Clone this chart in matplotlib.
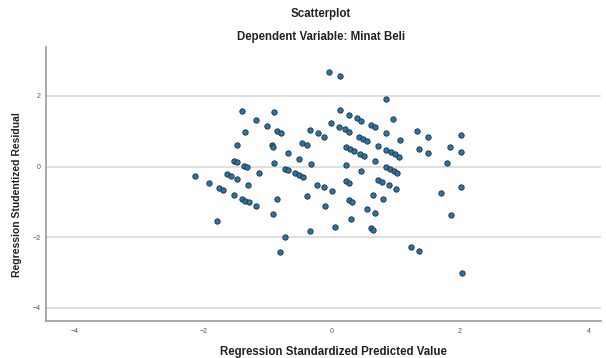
import matplotlib
matplotlib.use("Agg")
import matplotlib.pyplot as plt

# Regression standardized predicted value vs studentized residual
pred = [
    -0.04, 0.13, -1.40, -0.90, -1.18, -1.01, -1.35, -0.85, -0.79, -1.48,
    -0.93, -0.91, -0.68, -0.46, -0.38, -0.51, -0.34, -0.21, -0.12, -1.52,
    -1.48, -1.37, -1.32, -1.13, -0.90, -0.73, -0.68, -0.57, -0.51, -0.45,
    -0.32, -2.13, -1.63, -1.57, -1.48, -0.01, 0.85, 0.13, 0.27, 0.39,
    0.46, 0.11, 0.21, 0.27, 0.61, 0.67, 0.95, 0.85, 0.43, 0.49,
    0.55, 1.06, 1.33, 1.50, 2.01, 0.22, 0.29, 0.35, 0.44, 0.50,
    0.72, 0.85, 0.92, 0.99, 1.05, 0.67, 1.36, 1.50, 1.84, 2.01,
    1.80, 0.22, 0.85, 0.91, 0.97, 1.02, 0.46, 0.22, 0.72, 1.70,
    2.01, 1.86, -1.91, -1.76, -1.69, -1.30, -1.52, -1.40, -1.35, -1.29,
    -1.18, -1.79, -0.85, -0.91, -0.38, -0.34, -0.73, -0.81, -0.23, -0.12,
    0.00, 0.27, 0.78, 0.89, 1.00, -0.10, 0.27, 0.32, 0.64, 0.80,
    0.55, 0.67, 0.30, 0.05, 0.61, 0.64, 1.24, 1.36, 2.03,
]
resid = [
    2.68, 2.56, 1.57, 1.54, 1.32, 1.15, 0.98, 1.01, 0.95, 0.61,
    0.61, 0.55, 0.38, 0.67, 0.61, 0.21, 1.03, 0.95, 0.84, 0.16,
    0.13, 0.01, -0.01, -0.18, 0.10, -0.07, -0.10, -0.18, -0.24, -0.30,
    0.07, -0.27, -0.21, -0.27, -0.35, 1.23, 1.91, 1.60, 1.46, 1.37,
    1.29, 1.12, 1.06, 0.98, 1.18, 1.12, 1.35, 0.95, 0.84, 0.78,
    0.72, 0.75, 1.01, 0.84, 0.89, 0.55, 0.50, 0.44, 0.35, 0.30,
    0.58, 0.47, 0.41, 0.35, 0.27, 0.16, 0.50, 0.38, 0.55, 0.41,
    0.10, 0.04, -0.01, -0.07, -0.13, -0.18, -0.13, -0.41, -0.38, -0.75,
    -0.58, -1.37, -0.47, -0.61, -0.67, -0.52, -0.81, -0.92, -0.98, -1.01,
    -1.12, -1.54, -0.92, -1.35, -0.84, -1.83, -2.00, -2.42, -0.52, -0.58,
    -0.69, -0.47, -0.44, -0.52, -0.64, -1.12, -0.95, -1.01, -0.81, -0.92,
    -1.20, -1.32, -1.49, -1.71, -1.74, -1.80, -2.28, -2.39, -3.02,
]
xticks = [-4, -2, 0, 2, 4]
yticks = [-4, -2, 0, 2]

plt.rcParams['font.family'] = ['Liberation Sans', 'DejaVu Sans']

fig = plt.figure(figsize=(6.06, 3.58), dpi=100)
ax = fig.add_axes([0.076, 0.103, 0.916, 0.766])

for yv in yticks:
    ax.axhline(yv, color='#dcdcdc', lw=1.3, zorder=0)

ax.scatter(pred, resid, s=15, c='#1f77b4', edgecolors='#2b2b2b',
           linewidths=0.6, zorder=3)

ax.set_xlim(-4.45, 4.2)
ax.set_ylim(-4.38, 3.39)
ax.set_xticks(xticks)
ax.set_yticks(yticks)
ax.tick_params(length=0, labelsize=5, labelcolor='#555555')
ax.tick_params(axis='x', pad=5)
ax.tick_params(axis='y', pad=4)

for side in ['top', 'right']:
    ax.spines[side].set_visible(False)
for side in ['left', 'bottom']:
    ax.spines[side].set_color('#9a9a9a')
    ax.spines[side].set_linewidth(1.2)

ax.set_xlabel("Regression Standardized Predicted Value", fontsize=8.3,
              fontweight='bold', color='#222222', va='center')
ax.xaxis.set_label_coords(0.517, -0.113)
ax.set_ylabel("Regression Studentized Residual", fontsize=7.5,
              fontweight='bold', color='#222222', va='center')
ax.yaxis.set_label_coords(-0.052, 0.46)

fig.text(0.53, 0.961, "Scatterplot", ha='center', va='center',
         fontsize=8.3, fontweight='bold', color='#222222')
fig.text(0.53, 0.897, "Dependent Variable: Minat Beli", ha='center',
         va='center', fontsize=8.3, fontweight='bold', color='#222222')

fig.savefig("out.png", dpi=100)
